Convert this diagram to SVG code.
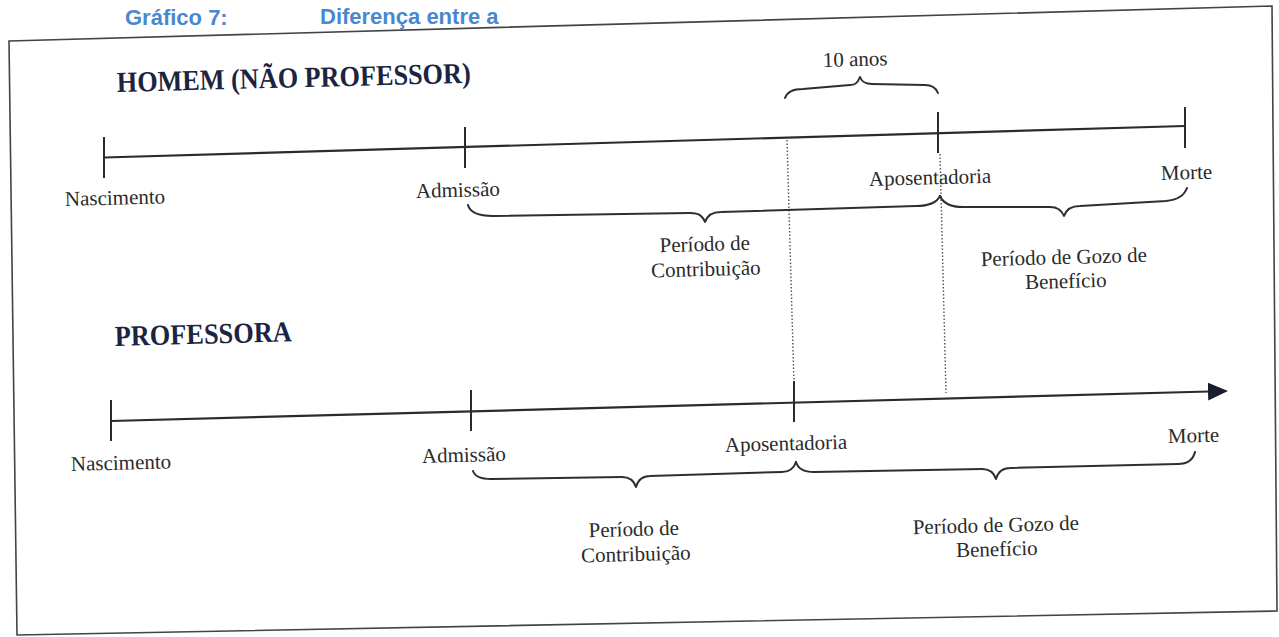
<svg xmlns="http://www.w3.org/2000/svg" width="1279" height="637" viewBox="0 0 1279 637">
  <style>
    .lbl { font-family: "Liberation Serif", "Times New Roman", serif; font-size: 21px; fill: #2a2a2a; }
    .mid { text-anchor: middle; }
    .ttl { font-family: "Liberation Serif", "Times New Roman", serif; font-size: 29px; font-weight: bold; fill: #1b2440; }
    .cap { font-family: "Liberation Sans", Arial, sans-serif; font-size: 22px; font-weight: bold; fill: #4a87cf; }
    .axis { stroke: #2b2b2b; stroke-width: 2.2; fill: none; }
    .tick { stroke: #2b2b2b; stroke-width: 2; }
    .brace { stroke: #2e2e2e; stroke-width: 2; fill: none; stroke-linejoin: round; stroke-linecap: round; }
    .dot { stroke: #555; stroke-width: 1.4; stroke-dasharray: 1.5 2; fill: none; }
    .frame { stroke: #444; stroke-width: 1.6; fill: none; }
  </style>
  <defs>
    <marker id="arrow" markerWidth="20" markerHeight="18" refX="1" refY="9" orient="auto" markerUnits="userSpaceOnUse" viewBox="0 0 20 18">
      <path d="M0,0 L20,9 L0,18 Z" fill="#1a1d2e"/>
    </marker>
  </defs>
  <rect width="1279" height="637" fill="#ffffff"/>

  <!-- caption -->
  <g id="caption">
    <text class="cap" x="125" y="25">Gráfico 7:</text>
    <text class="cap" x="320" y="24">Diferença entre a</text>
  </g>

  <!-- frame -->
  <path class="frame" d="M9,41 L1272,6 L1277,611 L17,635 Z"/>

  <g id="connectors">
    <!-- timeline 1 -->
    <line class="axis" x1="104" y1="157.5" x2="1185" y2="126"/>
    <!-- timeline 2 -->
    <line class="axis" x1="111" y1="421" x2="1209" y2="391.5" marker-end="url(#arrow)" stroke-width="2.4"/>
    <!-- dotted guides -->
    <line class="dot" x1="787" y1="140" x2="794" y2="384"/>
    <line class="dot" x1="940" y1="154" x2="946" y2="393"/>
    <!-- braces timeline 1 -->
    <path class="brace" d="M468,205 C470,213 479,216 493,216 L690,213 C700,213 703,217 705,222 C707,216 711,212 721,212 L916,206 C930,206 937,202 940,196"/>
    <path class="brace" d="M940,196 C943,203 950,207 963,207 L1050,207 C1058,207 1062,211 1064,216 C1066,210 1071,206 1080,206 L1166,201 C1178,200 1184,196 1187,188"/>
    <!-- 10 anos brace -->
    <path class="brace" d="M785,98 C787,92 792,89 803,89 L850,85 C856,85 858,82 860,77 C862,82 865,84 872,84 L925,85 C932,85 936,88 938,93"/>
    <!-- braces timeline 2 -->
    <path class="brace" d="M473,471 C475,477 481,479 491,479 L622,477 C630,477 634,481 636,487 C638,480 642,476 650,476 L782,472 C790,472 794,468 796,462"/>
    <path class="brace" d="M796,462 C798,469 804,472 814,472 L982,469 C990,469 994,473 996,479 C998,472 1002,468 1010,468 L1178,464 C1188,464 1193,460 1195,452"/>
  </g>

  <!-- Timeline 1: Homem (não professor) -->
  <g id="title-homem">
    <text class="ttl" x="117" y="92" textLength="354" lengthAdjust="spacingAndGlyphs" transform="rotate(-1.5 117 92)">HOMEM (NÃO PROFESSOR)</text>
  </g>
  <g id="h-nascimento">
    <line class="tick" x1="104" y1="137" x2="104" y2="178"/>
    <text class="lbl" x="65" y="206" transform="rotate(-1.5 65 206)">Nascimento</text>
  </g>
  <g id="h-admissao">
    <line class="tick" x1="465" y1="127" x2="465" y2="168"/>
    <text class="lbl" x="416" y="198" transform="rotate(-1.5 416 198)">Admissão</text>
  </g>
  <g id="h-aposentadoria">
    <line class="tick" x1="938" y1="112" x2="938" y2="153"/>
    <text class="lbl" x="869" y="186" transform="rotate(-1.5 869 186)">Aposentadoria</text>
  </g>
  <g id="h-morte">
    <line class="tick" x1="1185" y1="107" x2="1185" y2="148"/>
    <text class="lbl" x="1161" y="180" transform="rotate(-1.5 1161 180)">Morte</text>
  </g>
  <g id="h-10anos">
    <text class="lbl" x="823" y="67" transform="rotate(-1.5 823 67)">10 anos</text>
  </g>
  <g id="h-contribuicao">
    <text class="lbl mid" x="705" y="251" transform="rotate(-1.5 705 251)">Período de</text>
    <text class="lbl mid" x="706" y="276" transform="rotate(-1.5 706 276)">Contribuição</text>
  </g>
  <g id="h-gozo">
    <text class="lbl mid" x="1064" y="264" transform="rotate(-1.5 1064 264)">Período de Gozo de</text>
    <text class="lbl mid" x="1066" y="288" transform="rotate(-1.5 1066 288)">Benefício</text>
  </g>

  <!-- Timeline 2: Professora -->
  <g id="title-professora">
    <text class="ttl" x="115" y="346" textLength="177" lengthAdjust="spacingAndGlyphs" transform="rotate(-1.5 115 346)">PROFESSORA</text>
  </g>
  <g id="p-nascimento">
    <line class="tick" x1="111" y1="400" x2="111" y2="441"/>
    <text class="lbl" x="71" y="471" transform="rotate(-1.5 71 471)">Nascimento</text>
  </g>
  <g id="p-admissao">
    <line class="tick" x1="471" y1="390" x2="471" y2="431"/>
    <text class="lbl" x="422" y="463" transform="rotate(-1.5 422 463)">Admissão</text>
  </g>
  <g id="p-aposentadoria">
    <line class="tick" x1="794" y1="381" x2="794" y2="422"/>
    <text class="lbl" x="725" y="452" transform="rotate(-1.5 725 452)">Aposentadoria</text>
  </g>
  <g id="p-morte">
    <text class="lbl" x="1168" y="443" transform="rotate(-1.5 1168 443)">Morte</text>
  </g>
  <g id="p-contribuicao">
    <text class="lbl mid" x="634" y="536" transform="rotate(-1.5 634 536)">Período de</text>
    <text class="lbl mid" x="636" y="561" transform="rotate(-1.5 636 561)">Contribuição</text>
  </g>
  <g id="p-gozo">
    <text class="lbl mid" x="996" y="532" transform="rotate(-1.5 996 532)">Período de Gozo de</text>
    <text class="lbl mid" x="997" y="556" transform="rotate(-1.5 997 556)">Benefício</text>
  </g>
</svg>
